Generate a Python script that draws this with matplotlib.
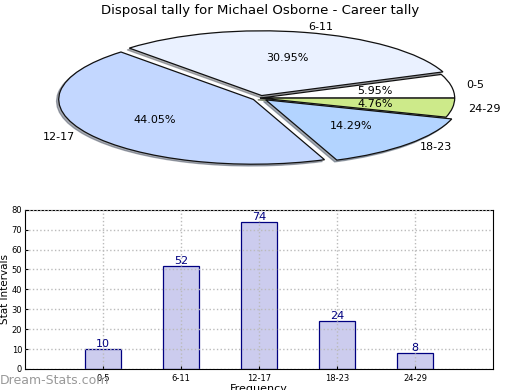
import matplotlib
matplotlib.use("Agg")
import matplotlib.pyplot as plt

# data
categories = ["0-5", "6-11", "12-17", "18-23", "24-29"]
counts = [10, 52, 74, 24, 8]

pie_colors = ["#ffffff", "#eaf1ff", "#c3d7ff", "#b3d4ff", "#cdea8a"]
explode = [0.0, 0.04, 0.04, 0.04, 0.0]

fig = plt.figure(figsize=(5.2, 3.9), dpi=100)
fig.text(0.5, 0.973, "Disposal tally for Michael Osborne - Career tally",
         ha="center", va="center", fontsize=9.5)

# pie (squashed to an ellipse)
axp = fig.add_axes([0.032, 0.541, 0.936, 0.415])
wedges, texts, autotexts = axp.pie(
    counts, labels=categories, colors=pie_colors, explode=explode,
    autopct="%.2f%%", pctdistance=0.6, labeldistance=1.08, startangle=0,
    shadow={"ox": -0.008, "oy": -0.02, "shade": 0.6},
    wedgeprops={"edgecolor": "#111111", "linewidth": 0.9},
    textprops={"fontsize": 8},
)
axp.set_aspect("auto")
axp.set_xlim(-1.25, 1.25)
axp.set_ylim(-1.25, 1.25)

# bars
axb = fig.add_axes([0.048, 0.054, 0.9, 0.408])
x = list(range(len(categories)))
axb.bar(x, counts, width=0.46, color="#ccccee", edgecolor="#000080",
        linewidth=0.9, zorder=1)
for xi, v in zip(x, counts):
    axb.text(xi, v, str(v), ha="center", va="bottom", color="#000080", fontsize=8)
axb.set_xlim(-1, 5)
axb.set_ylim(0, 80)
axb.set_xticks(x)
axb.set_xticklabels(categories, fontsize=6)
axb.set_yticks(range(0, 81, 10))
axb.tick_params(axis="y", labelsize=6, length=2, direction="in", pad=2)
axb.tick_params(axis="x", length=2, direction="in")
axb.grid(True, linestyle=":", color="#bbbbbb", linewidth=1.0, zorder=2)
axb.set_axisbelow(False)
axb.set_ylabel("Stat Intervals", fontsize=7.5)
axb.yaxis.set_label_coords(-0.031, 0.5)
axb.set_xlabel("Frequency", fontsize=8, labelpad=1)

fig.text(0.0, 0.025, "Dream-Stats.com", color="#999999", fontsize=9,
         ha="left", va="center")

fig.savefig("out.png", dpi=100)
